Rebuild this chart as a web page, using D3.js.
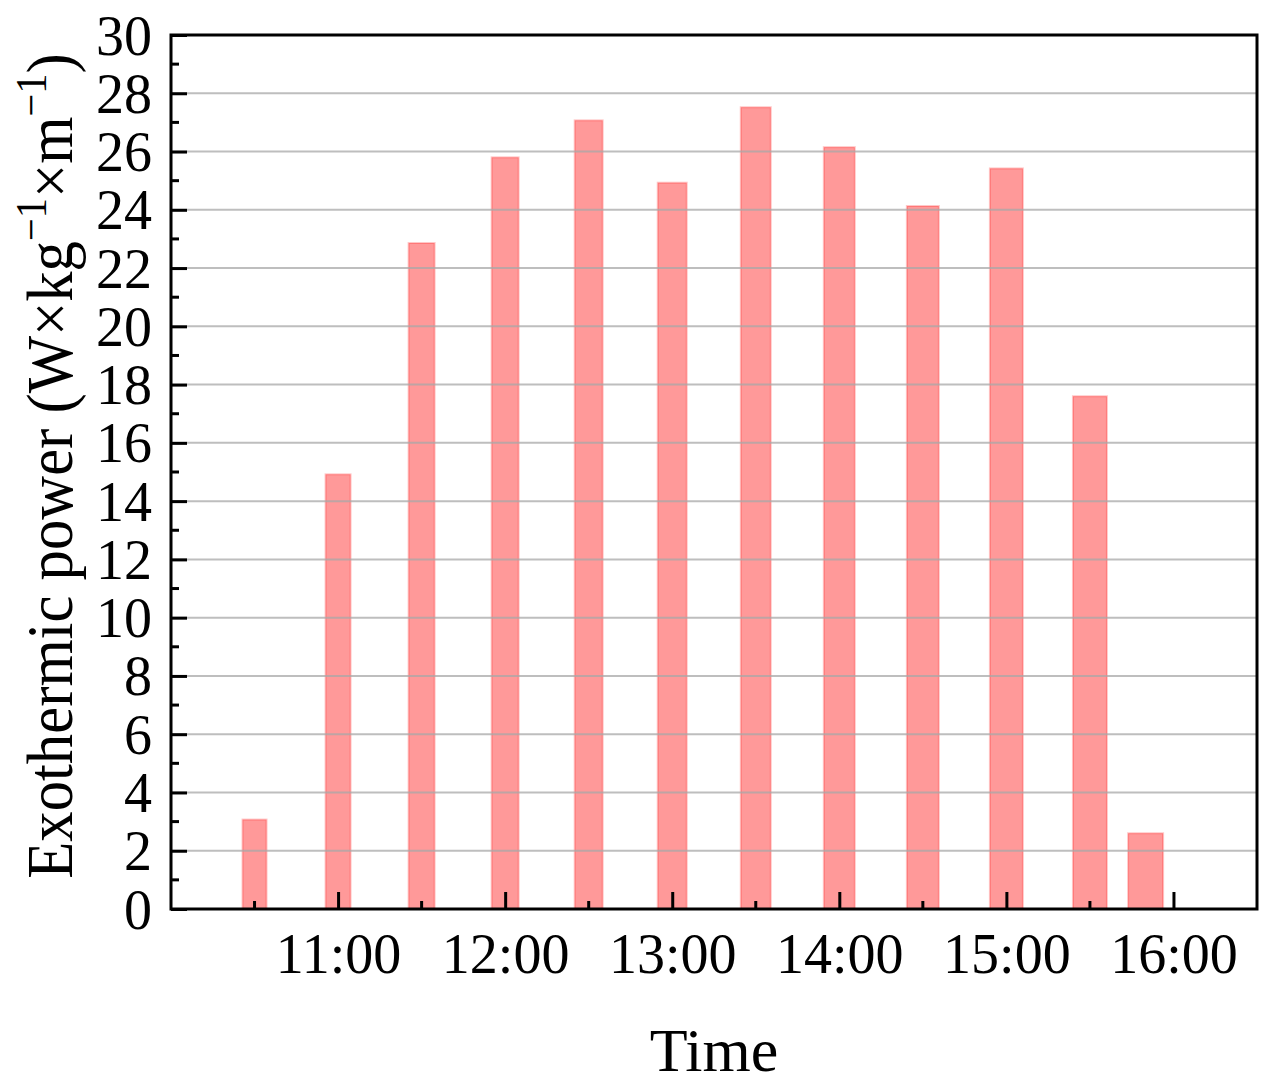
<!DOCTYPE html>
<html>
<head>
<meta charset="utf-8">
<script src="https://cdn.jsdelivr.net/npm/d3@7"></script>
<style>
  html, body { margin: 0; padding: 0; background: #fff; }
  svg { display: block; }
  text { font-family: "Liberation Serif", "Times New Roman", serif; fill: #000; }
</style>
</head>
<body>
<svg id="chart" width="1275" height="1086"></svg>
<script>
// ---- data ----
const times = ["10:30","11:00","11:30","12:00","12:30","13:00","13:30","14:00","14:30","15:00","15:30","15:50"];
const power = [3.07, 14.92, 22.86, 25.8, 27.07, 24.93, 27.52, 26.15, 24.13, 25.42, 17.6, 2.6];
const xTickLabels = ["11:00","12:00","13:00","14:00","15:00","16:00"];
const xMinorLabels = ["10:30","11:30","12:30","13:30","14:30","15:30"];
const yTicks = [0,2,4,6,8,10,12,14,16,18,20,22,24,26,28,30];
const yMinor = [1,3,5,7,9,11,13,15,17,19,21,23,25,27,29];

const toH = s => { const [h, m] = s.split(":").map(Number); return h + m / 60; };

// ---- layout ----
const L = 171, R = 1257, T = 35, B = 909;
const svg = d3.select("#chart");

const x = d3.scaleLinear().domain([10, 16.5]).range([L, R]);
const y = d3.scaleLinear().domain([0, 30]).range([B, T]);

// bars
const bars = svg.append("g");
bars.selectAll("rect").data(times).join("rect")
  .attr("x", (d, i) => x(toH(d)) - (24 + i) / 2)
  .attr("width", (d, i) => 24 + i)
  .attr("y", (d, i) => y(power[i]))
  .attr("height", (d, i) => y(0) - y(power[i]))
  .attr("fill", "#ff0000").attr("fill-opacity", 0.4)
  .attr("stroke", "#ff0000").attr("stroke-opacity", 0.22).attr("stroke-width", 2);

// grid lines (on top, visible through bars)
svg.append("g").selectAll("line").data(yTicks.filter(v => v > 0 && v < 30)).join("line")
  .attr("x1", L).attr("x2", R)
  .attr("y1", d => y(d)).attr("y2", d => y(d))
  .attr("stroke", "#a8a8a8").attr("stroke-opacity", 0.75).attr("stroke-width", 2);

// y axis ticks (inward)
const yAxis = d3.axisLeft(y).tickValues(yTicks).tickSize(-16).tickPadding(20).tickFormat(d3.format("d"));
const gy = svg.append("g").attr("transform", `translate(${L},0)`).call(yAxis);
gy.select(".domain").remove();
gy.selectAll(".tick line").attr("stroke", "#000").attr("stroke-width", 3);
gy.selectAll(".tick text").attr("font-size", 56).attr("x", -19).attr("dy", "0.34em")
  .style("font-family", "'Liberation Serif', serif");
svg.append("g").selectAll("line").data(yMinor).join("line")
  .attr("x1", L).attr("x2", L + 8)
  .attr("y1", d => y(d)).attr("y2", d => y(d))
  .attr("stroke", "#000").attr("stroke-width", 3);

// x axis ticks (inward)
const xAxis = d3.axisBottom(x).tickValues(xTickLabels.map(toH)).tickSize(-17)
  .tickFormat((d, i) => xTickLabels[i]);
const gx = svg.append("g").attr("transform", `translate(0,${B})`).call(xAxis);
gx.select(".domain").remove();
gx.selectAll(".tick line").attr("stroke", "#000").attr("stroke-width", 3);
gx.selectAll(".tick text").attr("font-size", 56).attr("y", 64).attr("dy", 0)
  .style("font-family", "'Liberation Serif', serif");
svg.append("g").selectAll("line").data(xMinorLabels.map(toH)).join("line")
  .attr("x1", d => x(d)).attr("x2", d => x(d))
  .attr("y1", B).attr("y2", B - 8)
  .attr("stroke", "#000").attr("stroke-width", 3);

// frame
svg.append("rect").attr("x", L).attr("y", T).attr("width", R - L).attr("height", B - T)
  .attr("fill", "none").attr("stroke", "#000").attr("stroke-width", 3);

// x title
svg.append("text").attr("x", (L + R) / 2).attr("y", 1071)
  .attr("text-anchor", "middle").attr("font-size", 62).text("Time");

// y title
const yt = svg.append("text")
  .attr("transform", "translate(72,466) rotate(-90) scale(0.92,1)")
  .attr("text-anchor", "middle").attr("font-size", 66);
yt.append("tspan").text("Exothermic power (W×kg");
yt.append("tspan").attr("font-size", 44).attr("dy", -26).text("−1");
yt.append("tspan").attr("dy", 26).text("×m");
yt.append("tspan").attr("font-size", 44).attr("dy", -26).text("−1");
yt.append("tspan").attr("dy", 26).text(")");
</script>
</body>
</html>
